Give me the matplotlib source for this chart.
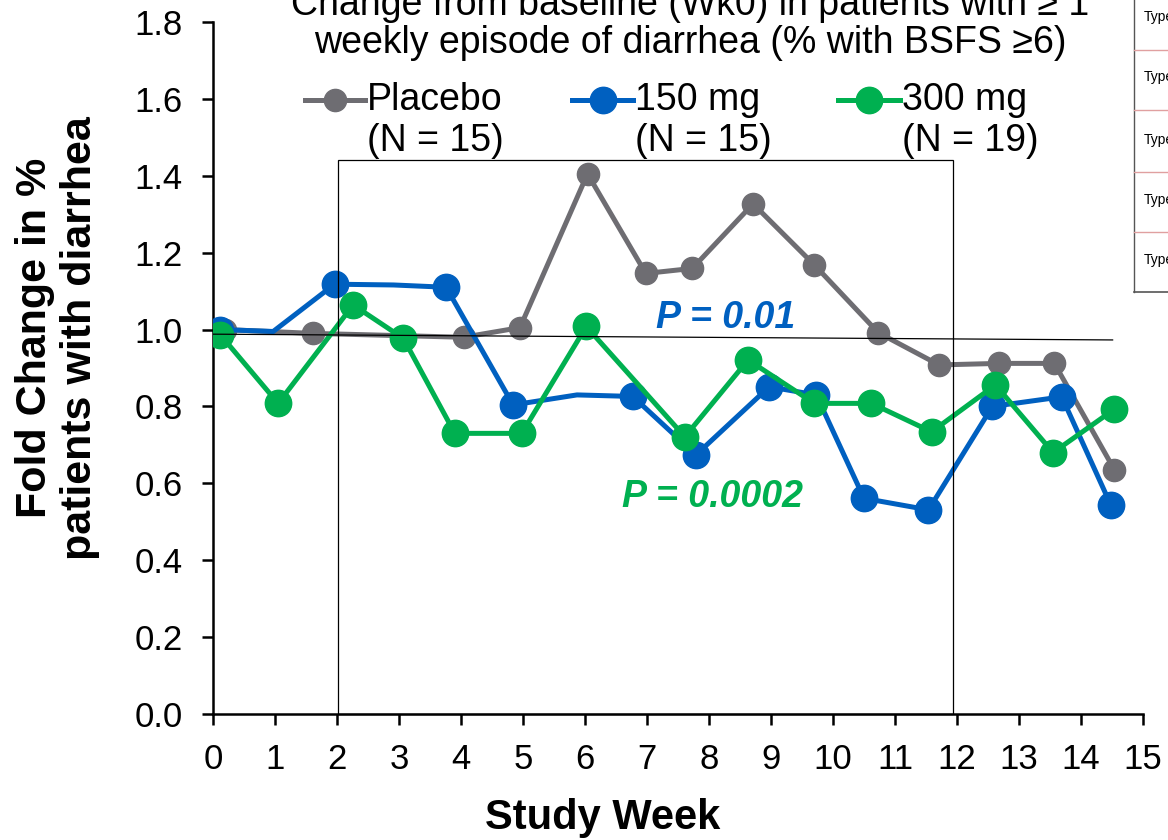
import matplotlib
matplotlib.use('Agg')
import matplotlib.pyplot as plt
from matplotlib.lines import Line2D
from matplotlib.patches import Rectangle

plt.rcParams['font.family'] = ['Liberation Sans', 'DejaVu Sans']

# weeks (plotted positions) and fold change values per arm
placebo_x = [0.2, 1.61, 4.04, 4.95, 6.04, 6.98, 7.73, 8.71, 9.70, 10.73, 11.71, 12.68, 13.57, 14.54]
placebo_y = [1.00, 0.99, 0.98, 1.005, 1.405, 1.146, 1.159, 1.327, 1.168, 0.992, 0.908, 0.912, 0.912, 0.635]

mg150_x = [0.12, 0.97, 1.96, 2.91, 3.76, 4.84, 5.87, 6.77, 7.79, 8.97, 9.73, 10.50, 11.54, 12.57, 13.69, 14.48]
mg150_y = [1.0, 0.995, 1.118, 1.116, 1.11, 0.804, 0.83, 0.826, 0.674, 0.851, 0.830, 0.561, 0.531, 0.80, 0.825, 0.544]
mg150_marked = [0, 2, 4, 5, 7, 8, 9, 10, 11, 12, 13, 14, 15]

mg300_x = [0.12, 1.05, 2.26, 3.07, 3.90, 4.98, 6.02, 7.61, 8.63, 9.70, 10.62, 11.59, 12.62, 13.55, 14.54]
mg300_y = [0.986, 0.808, 1.064, 0.977, 0.730, 0.730, 1.008, 0.721, 0.921, 0.808, 0.808, 0.734, 0.856, 0.680, 0.793]

arms = ['Placebo', '150 mg', '300 mg']
arm_n = ['(N = 15)', '(N = 15)', '(N = 19)']
gray = '#6e6d72'
blue = '#0060c0'
green = '#00b050'

fig = plt.figure(figsize=(11.68, 8.4), dpi=100)
ax = fig.add_axes([0.1824, 0.15, 0.7962, 0.8238])

ax.plot(placebo_x, placebo_y, color=gray, lw=3.6, marker='o', ms=16, zorder=3)
ax.plot(mg150_x, mg150_y, color=blue, lw=3.6, marker='o', ms=19,
        markevery=mg150_marked, zorder=4)
ax.plot(mg300_x, mg300_y, color=green, lw=3.6, marker='o', ms=19, zorder=5)

# reference line and highlighted window
ax.plot([0, 14.51], [0.988, 0.973], color='black', lw=0.9, zorder=6)
ax.add_patch(Rectangle((2.02, 0), 9.92, 1.441, fill=False, ec='black', lw=0.9,
                       zorder=6, clip_on=False))

ax.text(8.26, 1.03, 'P = 0.01', color=blue, fontsize=27, fontweight='bold',
        fontstyle='italic', ha='center', va='center')
ax.text(8.06, 0.565, 'P = 0.0002', color=green, fontsize=27, fontweight='bold',
        fontstyle='italic', ha='center', va='center')

ax.set_xlim(0, 15)
ax.set_ylim(0, 1.8)
ax.set_xticks(range(16))
ax.set_yticks([0.0, 0.2, 0.4, 0.6, 0.8, 1.0, 1.2, 1.4, 1.6, 1.8])
ax.set_yticklabels(['0.0', '0.2', '0.4', '0.6', '0.8', '1.0', '1.2', '1.4', '1.6', '1.8'])
ax.tick_params(labelsize=25, length=8, width=1.8, direction='out')
ax.tick_params(axis='x', pad=13)
ax.tick_params(axis='y', pad=14)
for s in ['top', 'right']:
    ax.spines[s].set_visible(False)
for s in ['left', 'bottom']:
    ax.spines[s].set_linewidth(1.8)

fig.text(0.516, 1 - 818 / 840, 'Study Week', fontsize=30, fontweight='bold',
         ha='center', va='center')
fig.text(0.049, 1 - 338 / 840, 'Fold Change in %\npatients with diarrhea', fontsize=31,
         fontweight='bold', rotation=90, ha='center', va='center', linespacing=1.17)

# title (top line runs off the page)
fig.text(0.591, 1 - 5 / 840, 'Change from baseline (Wk0) in patients with \u2265 1',
         fontsize=27, ha='center', va='center')
fig.text(0.591, 1 - 43 / 840, 'weekly episode of diarrhea (% with BSFS \u22656)',
         fontsize=27, ha='center', va='center')

# legend
leg = [(305, 365, 367, gray, 16), (572, 633, 635, blue, 19), (838, 900, 902, green, 19)]
for (x0, x1, tx, c, ms), name, n in zip(leg, arms, arm_n):
    yy = 1 - 100 / 840
    fig.add_artist(Line2D([x0 / 1168, (x0 + x1) / 2336, x1 / 1168], [yy, yy, yy],
                          color=c, lw=3.6, marker='o', ms=ms, markevery=[1]))
    fig.text(tx / 1168, yy, name, fontsize=27, ha='left', va='center')
    fig.text(tx / 1168, 1 - 141 / 840, n, fontsize=27, ha='left', va='center')

# table edge at right
tx0 = 1134 / 1168
fig.add_artist(Line2D([tx0, tx0], [1, 1 - 292 / 840], color='#555555', lw=1))
fig.add_artist(Line2D([tx0, 1], [1 - 292 / 840, 1 - 292 / 840], color='#555555', lw=1.2))
for yr in [50, 110, 172, 232]:
    fig.add_artist(Line2D([tx0, 1], [1 - yr / 840] * 2, color='#e0a0a0', lw=1))
for yr in [17, 77, 140, 200, 260]:
    fig.text(1144 / 1168, 1 - yr / 840, 'Type', fontsize=10, ha='left', va='center')

fig.savefig('out.png', dpi=100)
